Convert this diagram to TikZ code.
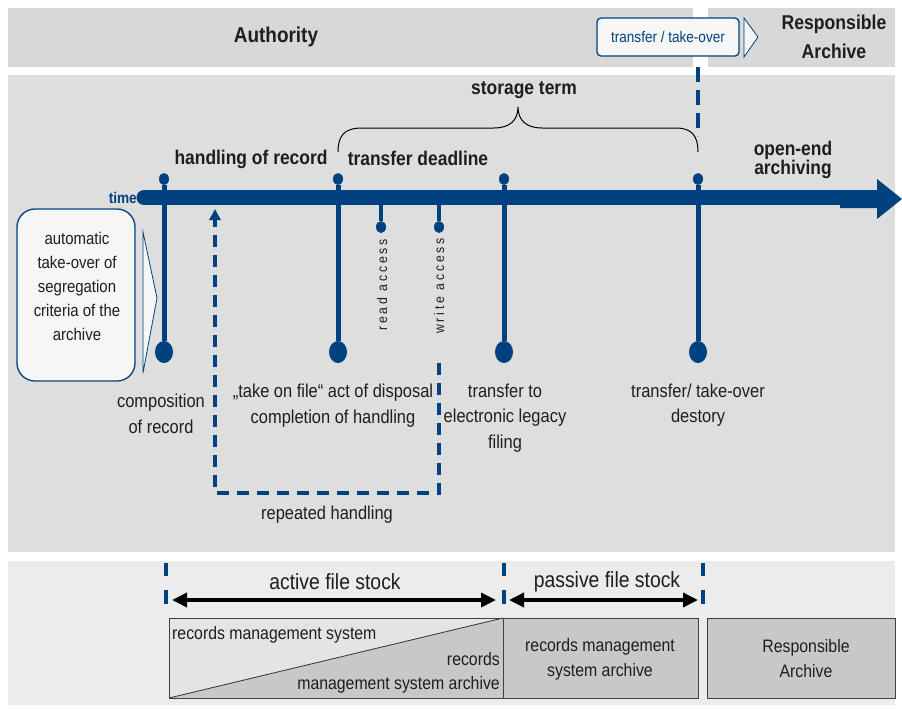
\documentclass[tikz,border=0pt]{standalone}
\usepackage{fontspec}
\setmainfont{Liberation Sans}[FakeStretch=0.88]
\newfontfamily\spacedfont{Liberation Sans}[LetterSpace=20,FakeStretch=0.88]
\usetikzlibrary{arrows.meta,shapes.geometric}
\definecolor{dblue}{RGB}{0,66,128}
\definecolor{panel}{RGB}{222,222,222}
\definecolor{band}{RGB}{216,216,216}
\definecolor{lowpanel}{RGB}{236,236,236}
\definecolor{boxgray}{RGB}{200,200,200}
\definecolor{boxlight}{RGB}{228,228,228}
\definecolor{boxfill}{RGB}{246,246,246}
\definecolor{txt}{RGB}{30,30,30}
\begin{document}
\begin{tikzpicture}[x=1pt,y=-1pt,
  tickline/.style={draw=dblue, line width=5},
  knob/.style={ellipse, fill=dblue, minimum width=10, minimum height=12, inner sep=0},
  bigdot/.style={ellipse, fill=dblue, minimum width=18, minimum height=22, inner sep=0},
  smalldot/.style={ellipse, fill=dblue, minimum width=10, minimum height=12, inner sep=0},
  lbl/.style={font=\fontsize{18.7}{26}\selectfont, align=center, text=txt},
  hdr/.style={font=\bfseries\fontsize{19.8}{21}\selectfont, text=txt, inner sep=0},
  vlbl/.style={font=\spacedfont\fontsize{14}{15}\selectfont, rotate=90, text=txt, inner sep=0},
  bluedash/.style={draw=dblue, line width=4, dash pattern=on 12 off 8},
  spanarrow/.style={draw=black, line width=3.5, {Triangle[length=15pt,width=14pt]}-{Triangle[length=15pt,width=14pt]}},
  stockbox/.style={draw=black!75, line width=1},
  boxtxt/.style={font=\fontsize{18}{25}\selectfont, align=center, text=txt, inner sep=0}
]
\useasboundingbox (0,0) rectangle (902,710);
\fill[white] (0,0) rectangle (902,710);
% bands and panels
\fill[band] (8,8) rectangle (693,67);
\fill[band] (708,8) rectangle (895,67);
\fill[panel] (8,75) rectangle (895,552);
\fill[lowpanel] (8,561) rectangle (895,705);

\node[font=\bfseries\fontsize{21.5}{24}\selectfont, text=txt] (authority) at (276,37) {Authority};
\node[font=\bfseries\fontsize{20}{29}\selectfont, align=center, text=txt] (resparch) at (834,37) {Responsible\\Archive};

% transfer box
\node[draw=dblue, line width=1.3, fill=boxfill, rounded corners=4, minimum width=142, minimum height=38, inner sep=0,
      font=\fontsize{15.4}{17}\selectfont, text=dblue] (tbox) at (668,37) {transfer / take-over};
\draw[dblue, line width=0.8, fill=boxfill] (744,18) -- (758,37) -- (744,57) -- cycle;
\coordinate (dtop) at (698,67);
\coordinate (dbot) at (698,136);
\draw[draw=dblue, line width=4, dash pattern=on 15 off 8] (dtop) -- (dbot);

% brace (storage term)
\coordinate (bl) at (338,152);
\coordinate (br) at (698,152);
\coordinate (btip) at (518,107);
\draw[black, line width=1] (bl) .. controls (338,136) and (344,128) .. (362,128) -- (494,128)
   .. controls (510,128) and (518,120) .. (btip)
   .. controls (518,120) and (526,128) .. (542,128) -- (676,128)
   .. controls (692,128) and (698,136) .. (br);
\node[hdr] (storage) at (524,90) {storage term};
\node[hdr] (handling) at (251,159) {handling of record};
\node[hdr] (deadline) at (418,158) {transfer deadline};
\node[hdr, align=center, font=\bfseries\fontsize{19.8}{19}\selectfont] (openend) at (793,160) {open-end\\archiving};

% left box
\node[draw=dblue, line width=1.3, fill=boxfill, rounded corners=18, minimum width=118, minimum height=172] (autobox) at (76,295) {};
\node[font=\fontsize{17}{24}\selectfont, align=center, text=txt] (autotext) at (77,286)
  {automatic\\take-over of\\segregation\\criteria of the\\archive};
\draw[dblue, line width=0.8, fill=boxfill] (143,232) -- (157,298) -- (143,373) -- cycle;

% ticks
\foreach \n/\x in {a/164, b/338, c/504, d/698} {
  \node[knob] (k\n) at (\x,179) {};
  \node[bigdot] (d\n) at (\x,352) {};
  \draw[tickline] (k\n) -- (d\n);
}
% short ticks
\coordinate (ra) at (381,197);
\coordinate (wa) at (439,197);
\node[smalldot] (rd) at (381,227) {};
\node[smalldot] (wd) at (439,227) {};
\draw[tickline, line width=4] (ra) -- (rd);
\draw[tickline, line width=4] (wa) -- (wd);
\node[vlbl] (readlbl) at (382,285) {read access};
\node[vlbl] (writelbl) at (439,286) {write access};

% time bar
\coordinate (barstart) at (144,197.5);
\coordinate (barend) at (845,197.5);
\draw[dblue, line width=15, line cap=round] (barstart) -- (barend);
\fill[dblue] (840,190) -- (877,190) -- (877,179) -- (902,199) -- (877,219) -- (877,208) -- (840,208) -- cycle;
\node[font=\bfseries\fontsize{15.5}{17}\selectfont, text=dblue, anchor=east, inner sep=0] (timelbl) at (137,198) {time};

% repeated handling loop
\coordinate (loopstart) at (439,363);
\coordinate (loopend) at (215,209);
\draw[bluedash, -{Triangle[length=11pt,width=11pt]}] (loopstart) -- (439,493) -- (215,493) -- (loopend);

% labels
\node[lbl] (composition) at (161,414) {composition\\of record};
\node[lbl] (takeon) at (333,406) {„take on file“ act of disposal\\completion of handling};
\node[lbl, font=\fontsize{18.7}{25.5}\selectfont] (legacy) at (505,418) {transfer to\\electronic legacy\\filing};
\node[lbl, font=\fontsize{18.7}{25}\selectfont] (destroy) at (698,405) {transfer/ take-over\\destory};
\node[lbl] (repeated) at (327,515) {repeated handling};

% bottom
\foreach \x in {166,504,703} {
  \draw[dblue, line width=4] (\x,563) -- (\x,576);
  \draw[dblue, line width=4] (\x,590) -- (\x,604);
}
\coordinate (as) at (172,600);
\coordinate (ae) at (496,600);
\coordinate (ps) at (509,600);
\coordinate (pe) at (698,600);
\draw[spanarrow] (as) -- (ae);
\draw[spanarrow] (ps) -- (pe);
\node[font=\fontsize{22}{24}\selectfont, text=txt] (active) at (335,582) {active file stock};
\node[font=\fontsize{22}{24}\selectfont, text=txt] (passive) at (607,582) {passive file stock};

\fill[boxlight] (169,618) rectangle (503,698);
\fill[boxgray] (169,698) -- (503,618) -- (503,698) -- cycle;
\draw[black!80, line width=0.8] (169,698) -- (503,618);
\draw[stockbox] (169,618) rectangle (503,698);
\draw[stockbox, fill=boxgray] (503,618) rectangle (698,698);
\draw[stockbox, fill=boxgray] (707,618) rectangle (895,698);
\node[boxtxt, anchor=west] (rms) at (172,635) {records management system};
\node[boxtxt, anchor=east] (rmsa1) at (500,659) {records};
\node[boxtxt, anchor=east] (rmsa2) at (500,685) {management system archive};
\node[boxtxt] (rmsarch) at (600,659) {records management\\system archive};
\node[boxtxt] (respbox) at (806,659) {Responsible\\Archive};
\end{tikzpicture}
\end{document}
